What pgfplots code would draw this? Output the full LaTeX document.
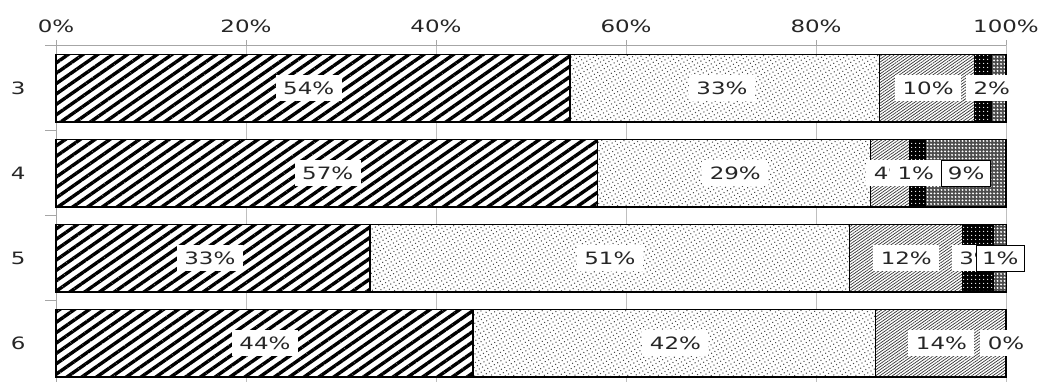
\documentclass[border=0pt]{standalone}
\usepackage{fontspec}
\setmainfont{DejaVu Sans}[FakeStretch=1.35]
\usepackage{pgfplots}
\pgfplotsset{compat=1.18}
\usetikzlibrary{patterns.meta}

\pgfplotsset{
  base/.style={
    scale only axis, width=950pt, height=337pt,
    xmin=0, xmax=100, ymin=-0.455, ymax=3.51,
  }
}

\begin{document}
\begin{tikzpicture}
\begin{axis}[base,
  xbar stacked, bar width=0.79,
  axis x line*=top, axis y line*=left,
  axis line style={gray!70, line width=0.8pt},
  xtick={0,20,40,60,80,100},
  xticklabels={0\%,20\%,40\%,60\%,80\%,100\%},
  ytick={0,1,2,3}, yticklabels={6,5,4,3},
  ytick style={draw=none},
  extra y ticks={0.5,1.5,2.5,3.51}, extra y tick labels={},
  extra y tick style={major tick length=11pt, ytick style={draw=gray!70, line width=0.8pt}},
  tick align=outside, major tick length=5pt,
  xtick style={draw=gray!70, line width=0.8pt},
  xmajorgrids, major grid style={gray!50, line width=0.8pt},
  tick label style={font=\fontsize{17}{20}\selectfont, text=black!85},
  xticklabel style={yshift=4pt},
  yticklabel style={xshift=-22pt},
  clip=false,
]
\coordinate (bl) at (rel axis cs:0,0);
\coordinate (tr) at (rel axis cs:1,1);
% A: thick diagonal hatch
\addplot[draw=black, line width=1.2pt, preaction={fill=white},
  pattern={Lines[angle=35,distance=8.5pt,line width=3.4pt]}, pattern color=black]
  coordinates {(54.1,3) (57.0,2) (33.05,1) (43.9,0)};
% B: stipple
\addplot[draw=black, line width=1.2pt, preaction={fill=white},
  pattern={Dots[angle=30,distance=3.8pt,radius=0.75pt]}, pattern color=black!70]
  coordinates {(32.6,3) (28.7,2) (50.5,1) (42.4,0)};
% C: fine diagonal hatch
\addplot[draw=black, line width=1.2pt, preaction={fill=white},
  pattern={Lines[angle=35,distance=2.4pt,line width=0.7pt]}, pattern color=black!80]
  coordinates {(10.0,3) (4.2,2) (11.9,1) (13.7,0)};
% D: dark
\addplot[draw=black, line width=1.2pt, preaction={fill=black},
  pattern={Dots[distance=4pt,radius=0.8pt]}, pattern color=white]
  coordinates {(1.8,3) (1.6,2) (3.2,1) (0,0)};
% E: grey mesh
\addplot[draw=black, line width=1.2pt, preaction={fill=black!70},
  pattern={Dots[distance=3.5pt,radius=1.1pt]}, pattern color=white]
  coordinates {(1.5,3) (8.5,2) (1.4,1) (0,0)};
\end{axis}

\begin{axis}[base, hide axis, clip=false,
  nodes near coords={\pgfplotspointmeta\%}, point meta=explicit symbolic,
  every node near coord/.append style={anchor=center, fill=white, inner xsep=7.5pt,
    inner ysep=6.5pt, font=\fontsize{17}{20}\selectfont, text=black!85},
]
\addplot[only marks, mark=none] table[meta=label] {
x y label
26.6 3 54
70.1 3 33
91.8 3 10
98.5 3 2
28.6 2 57
71.5 2 29
88.0 2 4
90.5 2 1
16.2 1 33
58.3 1 51
89.5 1 12
97.0 1 3
22.0 0 44
65.2 0 42
93.2 0 14
100.0 0 0
};
\addplot[only marks, mark=none,
  every node near coord/.append style={draw=black, line width=1pt, inner xsep=6pt}] table[meta=label] {
x y label
95.8 2 9
99.4 1 1
};
\end{axis}
\path ([xshift=-56pt]bl) rectangle ([xshift=40pt,yshift=45pt]tr);
\end{tikzpicture}
\end{document}
